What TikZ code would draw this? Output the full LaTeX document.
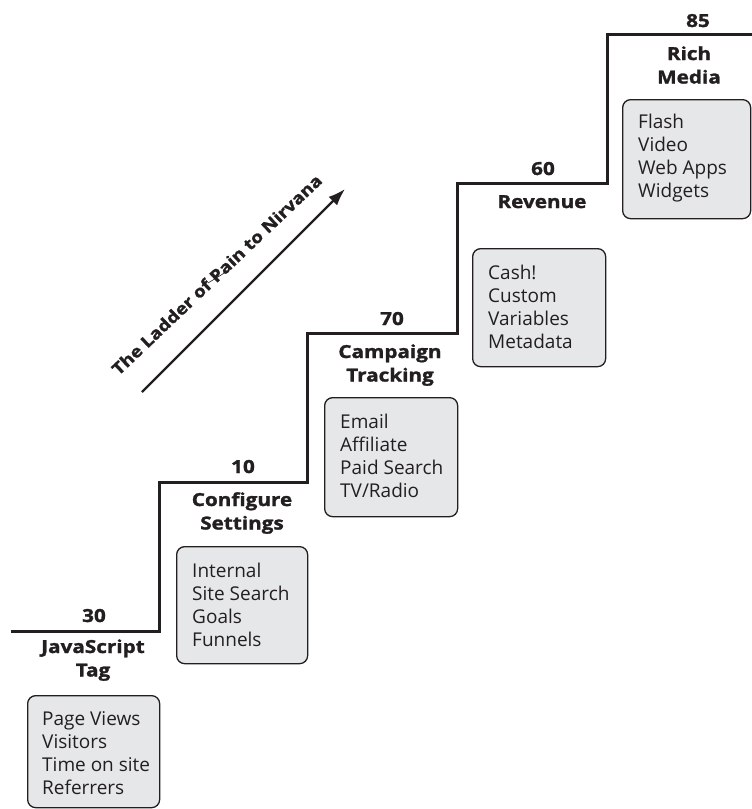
\documentclass[tikz,border=0pt]{standalone}
\usepackage{fontspec}
\setmainfont{Open Sans}
\newfontfamily\lblfont[FakeStretch=1.15, BoldFeatures={FakeBold=1.5}]{Open Sans}
\usetikzlibrary{arrows.meta}
\definecolor{ink}{HTML}{231F20}
\definecolor{boxfill}{HTML}{E6E7E8}
\tikzset{
  itembox/.style={draw=ink, fill=boxfill, line width=1.3pt, rounded corners=8pt, anchor=north west, inner sep=0pt},
  itemtext/.style={anchor=base west, inner sep=0pt, text=ink, font=\fontsize{19}{23.3}\selectfont},
  steplabel/.style={anchor=base, inner sep=0pt, text=ink, font=\lblfont\bfseries\fontsize{18}{23.5}\selectfont},
  numlabel/.style={anchor=base, inner sep=0pt, text=ink, font=\lblfont\bfseries\fontsize{18}{22}\selectfont},
  stair/.style={draw=ink, line width=3pt},
}
\newcommand{\itemlist}[1]{\parbox[t]{130pt}{\raggedright #1}}
\newcommand{\steplist}[1]{\parbox[t]{150pt}{\centering #1}}
\begin{document}
\begin{tikzpicture}[x=1pt,y=-1pt]
\useasboundingbox (0,0) rectangle (752,809);
% staircase
\coordinate (s0) at (11,631);
\coordinate (s1) at (159,631);
\coordinate (s2) at (159,482);
\coordinate (s3) at (307,482);
\coordinate (s4) at (307,333);
\coordinate (s5) at (457,333);
\coordinate (s6) at (457,183);
\coordinate (s7) at (607,183);
\coordinate (s8) at (607,34);
\coordinate (s9) at (752,34);
\draw[stair] (s0) -- (s1) -- (s2) -- (s3) -- (s4) -- (s5) -- (s6) -- (s7) -- (s8) -- (s9);
% numbers
\node[numlabel] (n1) at (94,622) {30};
\node[numlabel] (n2) at (243,473) {10};
\node[numlabel] (n3) at (392,325) {70};
\node[numlabel] (n4) at (543,175) {60};
\node[numlabel] (n5) at (698,27) {85};
% labels
\node[steplabel] (l1) at (93,653) {\steplist{JavaScript\\Tag}};
\node[steplabel] (l2) at (242,506) {\steplist{Configure\\Settings}};
\node[steplabel] (l3) at (390,358) {\steplist{Campaign\\Tracking}};
\node[steplabel] (l4) at (542,208) {\steplist{Revenue}};
\node[steplabel] (l5) at (689,60) {\steplist{Rich\\Media}};
% boxes
\node[itembox, minimum width=132pt, minimum height=112pt] (b1) at (27,695) {};
\node[itembox, minimum width=131pt, minimum height=117pt] (b2) at (176,546) {};
\node[itembox, minimum width=133pt, minimum height=119pt] (b3) at (324,397) {};
\node[itembox, minimum width=133pt, minimum height=118pt] (b4) at (472,248) {};
\node[itembox, minimum width=128pt, minimum height=119pt] (b5) at (622,99) {};
\node[itemtext] (t1) at (42,725) {\itemlist{Page Views\\Visitors\\Time on site\\Referrers}};
\node[itemtext] (t2) at (192,577) {\itemlist{Internal\\Site Search\\Goals\\Funnels}};
\node[itemtext] (t3) at (340,428) {\itemlist{Email\\Affiliate\\Paid Search\\TV/Radio}};
\node[itemtext] (t4) at (488,279) {\itemlist{Cash!\\Custom\\Variables\\Metadata}};
\node[itemtext] (t5) at (638,128) {\itemlist{Flash\\Video\\Web Apps\\Widgets}};
% arrow
\coordinate (a0) at (142,392);
\coordinate (a1) at (345,189);
\draw[ink, line width=2.2pt, -{Latex[length=17pt,width=12pt]}] (a0) -- (a1);
\node[anchor=base, inner sep=0pt, text=ink, rotate=43.5, font=\lblfont\bfseries\fontsize{16.5}{20}\selectfont] (title) at (221,279) {The Ladder of Pain to Nirvana};
\coordinate (k0) at (208,283);
\coordinate (k1) at (226,272);
\draw[ink, line width=0.6pt] (k0) -- (k1);
\end{tikzpicture}
\end{document}
